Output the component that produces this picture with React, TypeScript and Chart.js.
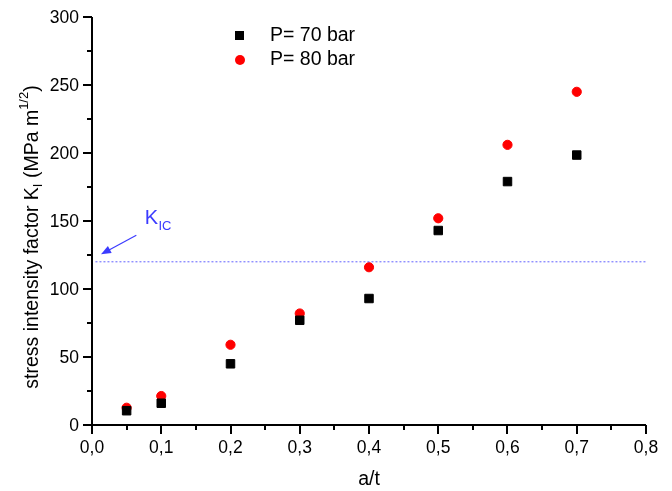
import React, { useEffect, useRef } from "react";
import { Chart, registerables } from "chart.js";

Chart.register(...registerables);

const A_T = [0.05, 0.1, 0.2, 0.3, 0.4, 0.5, 0.6, 0.7];
const P70 = [10.5, 16, 45, 77, 93, 143, 179, 198.5];
const P80 = [12.7, 21.3, 59, 82, 116, 152, 206, 245];
const KIC_VALUE = 120;
const KIC_X = [0.005, 0.8];
const ARROW_FROM = { x: 0.064, y: 139.5 };
const ARROW_TO = { x: 0.013, y: 125.5 };
const KIC_LABEL_POS = { x: 0.076, y: 148 };
const SERIES_LABELS = ["P= 70 bar", "P= 80 bar"];
const X_TICKS = [0, 0.1, 0.2, 0.3, 0.4, 0.5, 0.6, 0.7, 0.8];
const Y_TICKS = [0, 50, 100, 150, 200, 250, 300];

const FONT = "'Liberation Sans', Arial, sans-serif";

const decorPlugin = {
  id: "decor",
  afterDraw(chart: any) {
    const ctx = chart.ctx as CanvasRenderingContext2D;
    const xs = chart.scales.x;
    const ys = chart.scales.y;
    const area = chart.chartArea;
    ctx.save();
    // ticks
    ctx.strokeStyle = "#000";
    ctx.lineWidth = 2;
    for (let v = 0; v <= 0.8001; v += 0.05) {
      const major = Math.abs(Math.round(v * 10) - v * 10) < 1e-6;
      const px = Math.round(xs.getPixelForValue(v));
      ctx.beginPath();
      ctx.moveTo(px, area.bottom);
      ctx.lineTo(px, area.bottom + (major ? 9 : 5));
      ctx.stroke();
    }
    for (let v = 0; v <= 300; v += 25) {
      const major = v % 50 === 0;
      const py = Math.round(ys.getPixelForValue(v));
      ctx.beginPath();
      ctx.moveTo(area.left, py);
      ctx.lineTo(area.left - (major ? 9 : 5), py);
      ctx.stroke();
    }
    // axis lines
    ctx.beginPath();
    ctx.moveTo(area.left, area.top);
    ctx.lineTo(area.left, area.bottom);
    ctx.lineTo(area.right, area.bottom);
    ctx.stroke();

    // tick labels
    ctx.fillStyle = "#000";
    ctx.font = `17.5px ${FONT}`;
    ctx.textAlign = "center";
    ctx.textBaseline = "alphabetic";
    X_TICKS.forEach((v) => {
      ctx.fillText(v.toFixed(1).replace(".", ","), xs.getPixelForValue(v), area.bottom + 28);
    });
    ctx.textAlign = "right";
    ctx.textBaseline = "middle";
    Y_TICKS.forEach((v) => {
      ctx.fillText(String(v), area.left - 13, ys.getPixelForValue(v) + 1);
    });

    // x title
    ctx.font = `19.5px ${FONT}`;
    ctx.textAlign = "center";
    ctx.textBaseline = "alphabetic";
    ctx.fillText("a/t", (area.left + area.right) / 2, 485);

    // y title with sub/superscripts
    const segs = [
      { t: "stress intensity factor K", s: 19.5, dy: 0 },
      { t: "I", s: 13, dy: 4 },
      { t: " (MPa m", s: 19.5, dy: 0 },
      { t: "1/2", s: 13, dy: -10 },
      { t: ")", s: 19.5, dy: 0 },
    ];
    let total = 0;
    segs.forEach((sg) => {
      ctx.font = `${sg.s}px ${FONT}`;
      total += ctx.measureText(sg.t).width;
    });
    ctx.translate(38, 237);
    ctx.rotate(-Math.PI / 2);
    ctx.textAlign = "left";
    let cx = -total / 2;
    segs.forEach((sg) => {
      ctx.font = `${sg.s}px ${FONT}`;
      ctx.fillText(sg.t, cx, sg.dy);
      cx += ctx.measureText(sg.t).width;
    });
    ctx.setTransform(1, 0, 0, 1, 0, 0);

    // KIC arrow
    const fx = xs.getPixelForValue(ARROW_FROM.x);
    const fy = ys.getPixelForValue(ARROW_FROM.y);
    const tx = xs.getPixelForValue(ARROW_TO.x);
    const ty = ys.getPixelForValue(ARROW_TO.y);
    const ang = Math.atan2(ty - fy, tx - fx);
    ctx.strokeStyle = "#3b3bff";
    ctx.fillStyle = "#3b3bff";
    ctx.lineWidth = 1.2;
    ctx.beginPath();
    ctx.moveTo(fx, fy);
    ctx.lineTo(tx - 6 * Math.cos(ang), ty - 6 * Math.sin(ang));
    ctx.stroke();
    const hl = 10, hw = 4;
    ctx.beginPath();
    ctx.moveTo(tx, ty);
    ctx.lineTo(tx - hl * Math.cos(ang) + hw * Math.sin(ang), ty - hl * Math.sin(ang) - hw * Math.cos(ang));
    ctx.lineTo(tx - hl * Math.cos(ang) - hw * Math.sin(ang), ty - hl * Math.sin(ang) + hw * Math.cos(ang));
    ctx.closePath();
    ctx.fill();

    // KIC label
    const lx = xs.getPixelForValue(KIC_LABEL_POS.x);
    const ly = ys.getPixelForValue(KIC_LABEL_POS.y);
    ctx.font = `20px ${FONT}`;
    ctx.textAlign = "left";
    ctx.textBaseline = "alphabetic";
    ctx.fillText("K", lx, ly);
    const kw = ctx.measureText("K").width;
    ctx.font = `13px ${FONT}`;
    ctx.fillText("IC", lx + kw + 0.5, ly + 6);

    // legend
    ctx.fillStyle = "#000";
    ctx.fillRect(235, 31, 9, 9);
    ctx.fillStyle = "#ff0000";
    ctx.beginPath();
    ctx.arc(240, 60, 5, 0, Math.PI * 2);
    ctx.fill();
    ctx.fillStyle = "#000";
    ctx.font = `19.5px ${FONT}`;
    ctx.textBaseline = "middle";
    ctx.fillText(SERIES_LABELS[0], 270, 36);
    ctx.fillText(SERIES_LABELS[1], 270, 60);
    ctx.restore();
  },
};

export default function App() {
  const ref = useRef<HTMLCanvasElement | null>(null);
  useEffect(() => {
    if (!ref.current) return;
    const chart = new Chart(ref.current, {
      type: "scatter",
      data: {
        datasets: [
          {
            type: "line",
            label: "KIC",
            data: KIC_X.map((x) => ({ x, y: KIC_VALUE })),
            borderColor: "rgba(80,80,255,0.9)",
            borderWidth: 1,
            borderDash: [2, 2],
            pointRadius: 0,
            fill: false,
          } as any,
          {
            label: SERIES_LABELS[0],
            data: A_T.map((x, i) => ({ x, y: P70[i] })),
            pointStyle: "rect",
            pointRadius: 6,
            pointBorderWidth: 1,
            backgroundColor: "#000",
            borderColor: "#000",
          },
          {
            label: SERIES_LABELS[1],
            data: A_T.map((x, i) => ({ x, y: P80[i] })),
            pointStyle: "circle",
            pointRadius: 4.6,
            pointBorderWidth: 1,
            backgroundColor: "#ff0000",
            borderColor: "#ff0000",
          },
        ],
      },
      options: {
        animation: false,
        responsive: false,
        maintainAspectRatio: false,
        layout: { padding: { left: 92, right: 26, top: 17, bottom: 66 } },
        plugins: { legend: { display: false }, tooltip: { enabled: false } },
        scales: {
          x: { type: "linear", min: 0, max: 0.8, display: false },
          y: { type: "linear", min: 0, max: 300, display: false },
        },
      },
      plugins: [decorPlugin],
    });
    return () => chart.destroy();
  }, []);
  return (
    <div style={{ position: "fixed", left: 0, top: 0, width: 672, height: 491, background: "#fff" }}>
      <canvas ref={ref} width={672} height={491} style={{ display: "block" }} />
    </div>
  );
}
